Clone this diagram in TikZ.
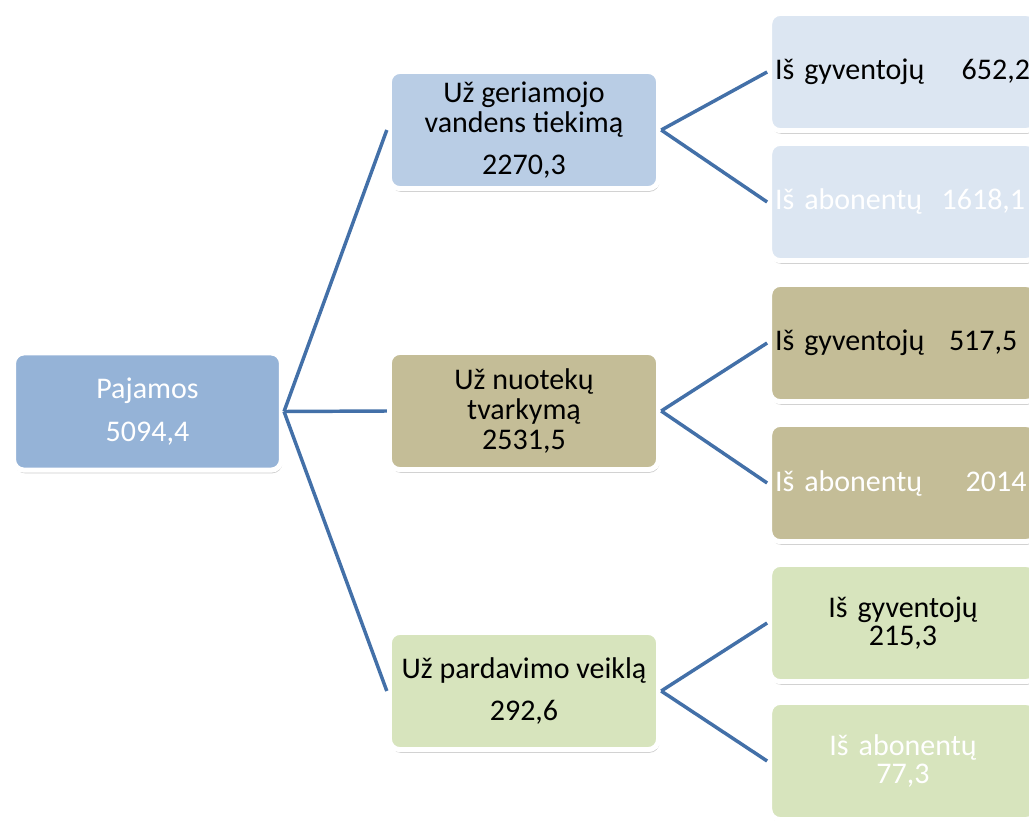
\documentclass[tikz,border=0pt]{standalone}
\usepackage{fontspec}
\setmainfont{Carlito}
\usepackage{xcolor}
\usepackage{tikz}
\usetikzlibrary{shadows}
\definecolor{stem}{HTML}{4370A8}
\definecolor{root}{HTML}{95B3D7}
\definecolor{water}{HTML}{B9CDE5}
\definecolor{waterlt}{HTML}{DCE6F2}
\definecolor{sewer}{HTML}{C4BD97}
\definecolor{sales}{HTML}{D7E4BD}
\tikzset{
  box/.style={draw=white, line width=3.8pt, rounded corners=8pt,
    minimum width=202pt, minimum height=88pt, inner sep=3pt, align=center,
    font=\fontsize{22.5}{22.5}\selectfont,
    drop shadow={shadow xshift=.8pt, shadow yshift=-2.4pt, opacity=.5, fill=black!40}},
  leaf/.style={box, minimum width=200pt, text width=192pt, inner xsep=4pt},
  leafl/.style={leaf, align=left},
  link/.style={draw=stem, line width=2.6pt}
}

\begin{document}
\begin{tikzpicture}[x=0.75pt, y=-0.75pt]
  \useasboundingbox (0,0) rectangle (1029,821);
  \clip (0,0) rectangle (1029,821);

  \node[box, fill=root, text=white, minimum width=201pt] (P) at (147.5,411.5) {Pajamos\\[9.5pt]5094,4};

  \node[box, fill=water] (V) at (524,130) {Už geriamojo\\vandens tiekimą\\[9.5pt]2270,3};
  \node[box, fill=sewer] (N) at (524,411) {Už nuotekų\\tvarkymą\\2531,5};
  \node[box, fill=sales] (S) at (524,691) {Už pardavimo veiklą\\[9.5pt]292,6};

  \node[leafl, fill=waterlt] (Vg) at (903,72) {\makebox[140pt][l]{Iš gyventojų}652,2};
  \node[leafl, fill=waterlt, text=white] (Va) at (903,202) {\makebox[125pt][l]{Iš abonentų}1618,1};
  \node[leafl, fill=sewer] (Ng) at (903,343) {\makebox[130.5pt][l]{Iš gyventojų}517,5};
  \node[leafl, fill=sewer, text=white] (Na) at (903,483) {\makebox[143pt][l]{Iš abonentų}2014};
  \node[leaf, fill=sales, font=\fontsize{22.5}{21}\selectfont] (Sg) at (903,623) {Iš gyventojų\\215,3};
  \node[leaf, fill=sales, text=white, font=\fontsize{22.5}{21}\selectfont] (Sa) at (903,761) {Iš abonentų\\77,3};

  \draw[link] (P.east) -- (V.west);
  \draw[link] (P.east) -- (N.west);
  \draw[link] (P.east) -- (S.west);
  \draw[link] (V.east) -- (Vg.west);
  \draw[link] (V.east) -- (Va.west);
  \draw[link] (N.east) -- (Ng.west);
  \draw[link] (N.east) -- (Na.west);
  \draw[link] (S.east) -- (Sg.west);
  \draw[link] (S.east) -- (Sa.west);
\end{tikzpicture}
\end{document}
